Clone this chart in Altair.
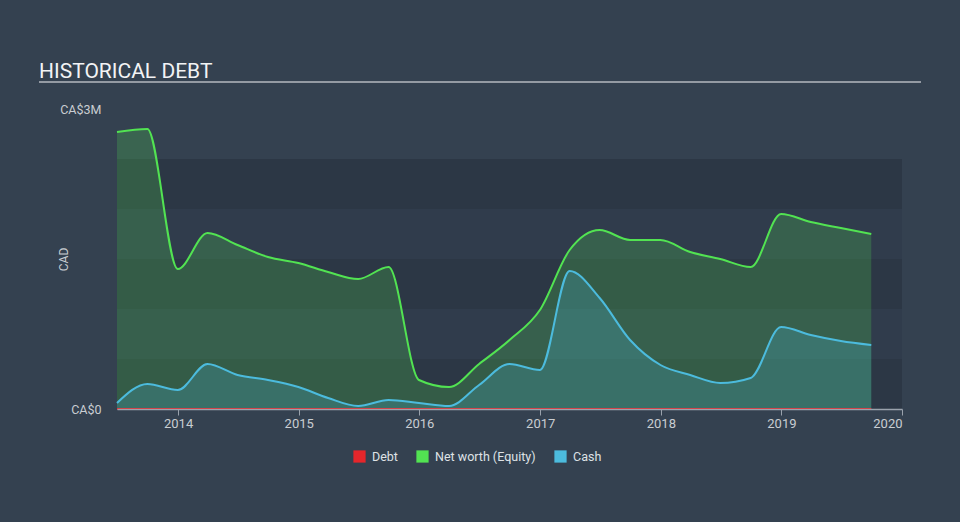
import altair as alt
import pandas as pd

dates = [
    "2013-06-30", "2013-09-30", "2013-12-31",
    "2014-03-31", "2014-06-30", "2014-09-30", "2014-12-31",
    "2015-03-31", "2015-06-30", "2015-09-30", "2015-12-31",
    "2016-03-31", "2016-06-30", "2016-09-30", "2016-12-31",
    "2017-03-31", "2017-06-30", "2017-09-30", "2017-12-31",
    "2018-03-31", "2018-06-30", "2018-09-30", "2018-12-31",
    "2019-03-31", "2019-06-30", "2019-09-30",
]
net_worth = [
    2.77, 2.80, 1.40,
    1.76, 1.64, 1.52, 1.46,
    1.37, 1.30, 1.42, 0.29,
    0.22, 0.45, 0.69, 0.99,
    1.59, 1.79, 1.69, 1.69,
    1.57, 1.50, 1.42, 1.95,
    1.87, 1.81, 1.75,
]
cash = [
    0.06, 0.25, 0.19,
    0.45, 0.34, 0.29, 0.22,
    0.11, 0.03, 0.09, 0.06,
    0.03, 0.24, 0.45, 0.39,
    1.38, 1.11, 0.69, 0.44,
    0.34, 0.26, 0.31, 0.82,
    0.74, 0.68, 0.64,
]
debt = [0.0] * len(dates)

series_names = ["Debt", "Net worth (Equity)", "Cash"]
series_colors = ["#e5262b", "#52e352", "#4cbbdd"]

band_low = [0.0, 1.0e6, 2.0e6]
band_high = [0.5e6, 1.5e6, 2.5e6]

rows = []
for name, vals in zip(series_names, [debt, net_worth, cash]):
    for d, v in zip(dates, vals):
        rows.append({"date": d, "value": v * 1e6, "series": name})
df = pd.DataFrame(rows)

x_start = "2013-06-30"
x_end = "2020-01-01"

FONT = "Roboto"
LABEL = "#c9cdd2"

x_scale = alt.Scale(type="utc",
                    domain=[alt.DateTime(year=2013, month=6, date=30, utc=True),
                            alt.DateTime(year=2020, month=1, date=1, utc=True)])
y_scale = alt.Scale(domain=[0, 3e6], nice=False)

x_axis = alt.Axis(format="%Y", tickCount="year", title=None, grid=False,
                  domainColor="#9aa2ac", tickColor="#9aa2ac", tickSize=6,
                  domainWidth=1.5, labelFont=FONT, labelFontSize=13,
                  labelColor=LABEL, labelPadding=2, zindex=1)
y_axis = alt.Axis(values=[0, 3e6],
                  labelExpr="datum.value == 0 ? 'CA$0' : 'CA$3M'",
                  domain=False, ticks=False, grid=False,
                  labelPadding=16, labelFont=FONT, labelFontSize=12.5,
                  labelColor=LABEL,
                  title="CAD", titleFont=FONT, titleFontSize=12,
                  titleFontWeight="normal", titleColor=LABEL,
                  titleX=-54, titleY=150, titleAngle=-90,
                  titleAlign="center", titleBaseline="middle")

# background bands
bg_df = pd.DataFrame({"start": [x_start], "end": [x_end], "lo": [0.0], "hi": [2.5e6]})
bands_df = pd.DataFrame({"start": [x_start] * 3, "end": [x_end] * 3,
                         "lo": band_low, "hi": band_high})

bg = alt.Chart(bg_df).mark_rect(color="#303c4c").encode(
    x=alt.X("start:T", scale=x_scale, axis=x_axis),
    x2="end:T",
    y=alt.Y("lo:Q", scale=y_scale, axis=y_axis),
    y2="hi:Q",
)
bands = alt.Chart(bands_df).mark_rect(color="#2c3745").encode(
    x=alt.X("start:T", scale=x_scale),
    x2="end:T",
    y=alt.Y("lo:Q", scale=y_scale),
    y2="hi:Q",
)

color = alt.Color("series:N",
                  scale=alt.Scale(domain=series_names, range=series_colors),
                  legend=alt.Legend(title=None, orient="none", direction="horizontal",
                                    legendX=236, legendY=341,
                                    symbolType="square", symbolSize=150,
                                    symbolOpacity=1, symbolStrokeWidth=0,
                                    labelFont=FONT, labelFontSize=12.5,
                                    labelColor="#dfe2e6", columnPadding=18,
                                    labelOffset=6))

areas = alt.Chart(df).mark_area(opacity=0.22, interpolate="monotone").encode(
    x=alt.X("date:T", scale=x_scale),
    y=alt.Y("value:Q", scale=y_scale, stack=None),
    color=color,
    order=alt.Order("series:N"),
)

lines = alt.Chart(df).mark_line(strokeWidth=2, interpolate="monotone").encode(
    x=alt.X("date:T", scale=x_scale),
    y=alt.Y("value:Q", scale=y_scale),
    color=alt.Color("series:N", scale=alt.Scale(domain=series_names, range=series_colors),
                    legend=None),
)

title_df = pd.DataFrame({"t": ["HISTORICAL DEBT"]})
title = alt.Chart(title_df).mark_text(align="left", baseline="alphabetic",
                                      font=FONT, fontSize=21, color="#f2f3f5").encode(
    text="t:N", x=alt.value(-78), y=alt.value(-31))
underline = alt.Chart(title_df).mark_rule(color="#b4b9bf", strokeWidth=1.5).encode(
    x=alt.value(-78), x2=alt.value(804), y=alt.value(-27))

chart = alt.layer(bg, bands, areas, lines, title, underline).properties(
    width=785, height=300,
    autosize=alt.AutoSizeParams(type="none"),
    padding={"left": 117, "top": 109, "right": 58, "bottom": 113},
    background="#344150",
).configure_view(stroke=None)

chart.save("out.html", embed_options={"renderer": "svg", "actions": False})
